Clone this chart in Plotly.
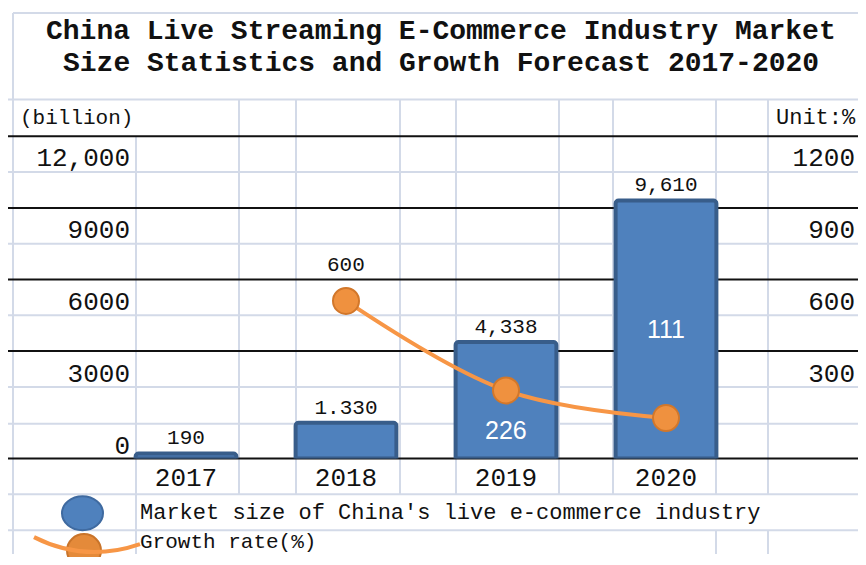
import plotly.graph_objects as go

# data
years = ["2017", "2018", "2019", "2020"]
market_size = [190, 1330, 4338, 9610]          # billion
market_labels = ["190", "1.330", "4,338", "9,610"]
growth_years = ["2018", "2019", "2020"]
growth_rate = [600, 226, 111]                  # %
left_ticks = [0, 3000, 6000, 9000, 12000]
left_ticktext = ["0", "3000", "6000", "9000", "12,000"]
right_ticks = [0, 300, 600, 900, 1200]

# page body has an 8px margin; keep the figure inside the window
OFF = 8
W, H = 866 - 2 * OFF, 565 - 2 * OFF
MONO = "Liberation Mono, DejaVu Sans Mono, monospace"

def px(x):
    return (x - OFF) / W

def py(y):
    return 1 - (y - OFF) / H

fig = go.Figure()

fig.add_trace(go.Bar(
    x=years, y=market_size, yaxis="y",
    width=0.63,
    marker=dict(color="#4f81bd", line=dict(color="#385d8a", width=4), cornerradius=3),
    text=market_labels, textposition="outside", cliponaxis=False,
    textfont=dict(family=MONO, size=21, color="#111"),
    showlegend=False,
))

fig.add_trace(go.Scatter(
    x=growth_years, y=growth_rate, yaxis="y2",
    mode="lines+markers",
    line=dict(color="#f79646", width=4, shape="spline"),
    marker=dict(size=26, color="#ef913f", line=dict(color="#d2772a", width=2)),
    showlegend=False,
))

# invisible trace so the left label axis is drawn
fig.add_trace(go.Scatter(x=years, y=[None] * len(years), yaxis="y3",
                         showlegend=False, hoverinfo="skip"))

# growth rate labels (placed like the original)
label_style = [("#111", 35, MONO, 21), ("white", -40, "Liberation Sans, Arial", 25),
               ("white", 89, "Liberation Sans, Arial", 25)]
for yr, v, (col, shift, fam, sz) in zip(growth_years, growth_rate, label_style):
    fig.add_annotation(x=years.index(yr), y=v, xref="x", yref="y2", text=str(v),
                       showarrow=False, yshift=shift,
                       font=dict(family=fam, size=sz, color=col))

# spreadsheet cell grid
shapes = []
light = "#d3dae8"
for y in [100, 173, 245, 317, 389, 426, 497, 533]:
    shapes.append(dict(type="line", x0=0, x1=1, y0=py(y), y1=py(y),
                       line=dict(color=light, width=2)))
shapes.append(dict(type="line", x0=px(13), x1=1, y0=py(13), y1=py(13),
                   line=dict(color=light, width=2)))
shapes.append(dict(type="line", x0=px(13), x1=px(13), y0=py(13), y1=0,
                   line=dict(color=light, width=2)))
shapes.append(dict(type="line", x0=px(136), x1=px(136), y0=py(137), y1=0,
                   line=dict(color=light, width=2)))
for x in [239, 296, 400, 456, 559, 613, 716, 768]:
    shapes.append(dict(type="line", x0=px(x), x1=px(x), y0=py(100), y1=py(497),
                       line=dict(color=light, width=2)))
for x in [716, 768]:
    shapes.append(dict(type="line", x0=px(x), x1=px(x), y0=py(533), y1=0,
                       line=dict(color=light, width=2)))
for y in [137, 209, 281, 353, 461]:
    shapes.append(dict(type="line", x0=0, x1=1, y0=py(y), y1=py(y),
                       line=dict(color="#111", width=2)))
for s in shapes:
    s.update(xref="paper", yref="paper", layer="below")

# legend symbols
shapes.append(dict(type="circle", xref="paper", yref="paper",
                   x0=px(62), x1=px(103), y0=py(533), y1=py(499),
                   fillcolor="#4f81bd", line=dict(color="#3f6aa0", width=2)))
shapes.append(dict(type="circle", xref="paper", yref="paper",
                   x0=px(67), x1=px(101), y0=py(570), y1=py(537),
                   fillcolor="#e48a3a", line=dict(color="#c9742a", width=2)))
shapes.append(dict(type="path", xref="paper", yref="paper",
                   path=f"M {px(34)} {py(540)} Q {px(85)} {py(566)} {px(140)} {py(547)}",
                   line=dict(color="#f79646", width=4)))
fig.update_layout(shapes=shapes)

texts = [
    ("China Live Streaming E-Commerce Industry Market", 441, 32, "center", 28, True),
    ("Size Statistics and Growth Forecast 2017-2020", 441, 64, "center", 28, True),
    ("(billion)", 18, 119, "left", 21, False),
    ("Unit:%", 858, 119, "right", 22, False),
    ("Market size of China's live e-commerce industry", 138, 516, "left", 22, False),
    ("Growth rate(%)", 138, 545, "left", 21, False),
]
for t, x, y, anchor, sz, bold in texts:
    fig.add_annotation(x=px(x), y=py(y), xref="paper", yref="paper",
                       text=f"<b>{t}</b>" if bold else t, showarrow=False,
                       xanchor=anchor, yanchor="middle",
                       font=dict(family=MONO, size=sz, color="#111"))

dom_y = [py(461), py(137)]
fig.update_layout(
    width=W, height=H, autosize=False,
    margin=dict(l=0, r=0, t=0, b=0),
    paper_bgcolor="white", plot_bgcolor="rgba(0,0,0,0)",
    xaxis=dict(domain=[px(106), px(746)], type="category", categoryorder="array",
               categoryarray=years, range=[-0.5, 3.5], showgrid=False, zeroline=False,
               showline=False, ticks="", tickfont=dict(family=MONO, size=26, color="#111")),
    yaxis=dict(domain=dom_y, range=[0, 12000], visible=False),
    yaxis2=dict(overlaying="y", anchor="free", position=1, side="right",
                range=[-58.1, 1287.2], tickvals=right_ticks, ticklabelposition="inside",
                showgrid=False, zeroline=False, showline=False, ticks="",
                tickfont=dict(family=MONO, size=26, color="#111")),
    yaxis3=dict(overlaying="y", anchor="free", position=px(130), side="left",
                range=[-581, 12872], tickvals=left_ticks, ticktext=left_ticktext,
                showgrid=False, zeroline=False, showline=False, ticks="",
                tickfont=dict(family=MONO, size=26, color="#111")),
)

fig.write_html("out.html")
